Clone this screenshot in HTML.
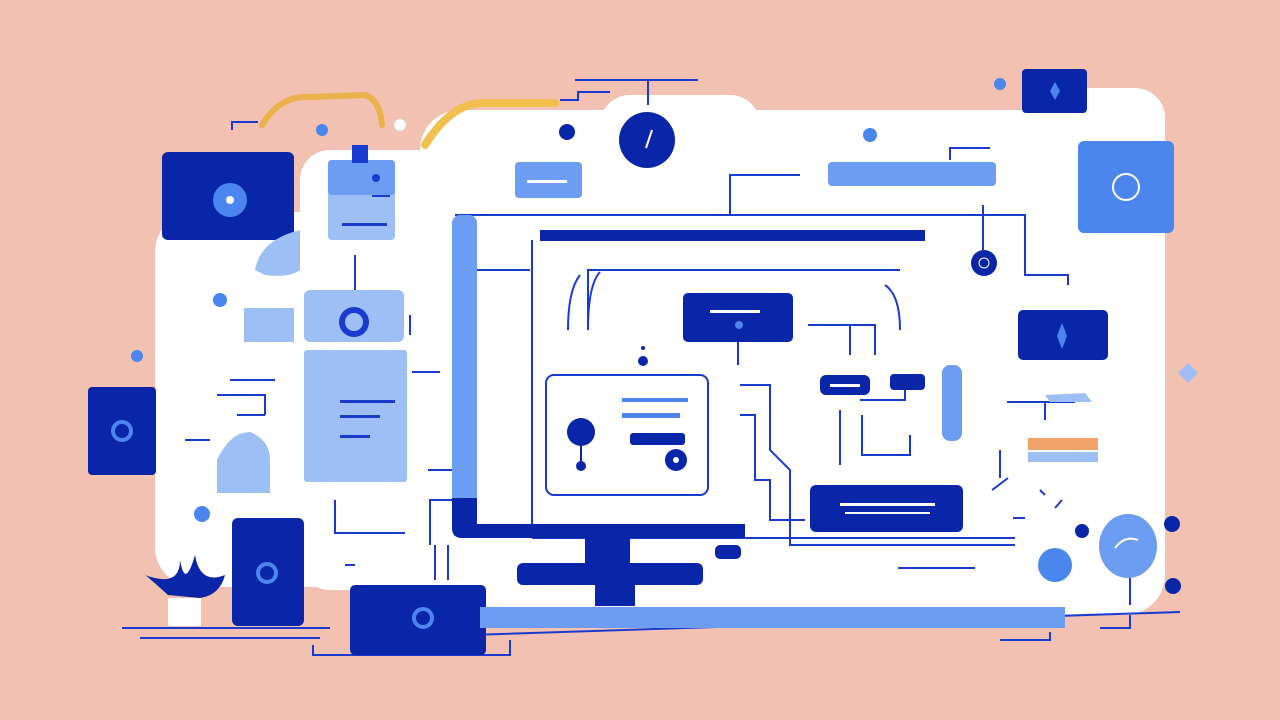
<!DOCTYPE html>
<html><head><meta charset="utf-8"><style>
html,body{margin:0;padding:0;width:1280px;height:720px;overflow:hidden;background:#f2c1b1}
svg{display:block}
</style></head><body>
<svg width="1280" height="720" viewBox="0 0 1280 720" xmlns="http://www.w3.org/2000/svg">
<rect width="1280" height="720" fill="#f2c1b1"/>
<g fill="#ffffff">
<rect x="155" y="212" width="200" height="375" rx="40"/>
<rect x="300" y="150" width="160" height="440" rx="30"/>
<rect x="420" y="110" width="745" height="505" rx="40"/>
<rect x="600" y="95" width="160" height="60" rx="30"/>
<rect x="1060" y="88" width="105" height="80" rx="30"/>
<rect x="420" y="140" width="100" height="100" rx="30"/>
</g>
<path d="M262 125 Q280 95 310 97 L365 95 Q380 100 382 125" fill="none" stroke="#e9b24a" stroke-width="6" stroke-linecap="round"/>
<path d="M425 145 Q450 105 480 103 L555 103" fill="none" stroke="#f2c04e" stroke-width="8" stroke-linecap="round"/>
<g fill="none" stroke="#1a3bd0" stroke-width="2">
<path d="M575 80 L698 80 M648 80 L648 105 M560 100 L578 100 L578 92 L610 92"/>
<path d="M232 130 L232 122 L258 122"/>
<path d="M730 215 L730 175 L800 175"/>
<path d="M950 160 L950 148 L990 148"/>
<path d="M455 215 L1025 215 L1025 275 L1068 275 L1068 285"/>
<path d="M983 205 L983 250"/>
<path d="M475 270 L530 270"/>
<path d="M532 240 L532 538 M532 538 L1015 538"/>
<path d="M580 275 Q568 290 568 330 M600 272 Q588 285 588 330 L588 270 Q600 270 900 270"/>
<path d="M885 285 Q900 295 900 330"/>
<path d="M738 342 L738 365"/>
<path d="M808 325 L875 325 L875 355"/>
<path d="M850 325 L850 355"/>
<path d="M740 385 L770 385 L770 450 L790 470 L790 545 L1015 545"/>
<path d="M740 415 L755 415 L755 480 L770 480 L770 520 L805 520"/>
<path d="M860 400 L905 400 L905 385"/>
<path d="M862 415 L862 455 L910 455 L910 435"/>
<path d="M840 410 L840 465"/>
<path d="M1007 402 L1075 402 M1045 402 L1045 420"/>
<path d="M1008 478 Q995 488 992 490 M1000 450 L1000 478"/>
<path d="M1040 490 L1045 495 M1055 508 L1062 500"/>
<path d="M1013 518 L1025 518"/>
<path d="M898 568 L975 568"/>
<path d="M475 500 L430 500 L430 545 M428 470 L455 470"/>
<path d="M410 315 L410 335 M412 372 L440 372"/>
<path d="M230 380 L275 380 M217 395 L265 395 L265 415 M237 415 L265 415 M185 440 L210 440"/>
<path d="M335 500 L335 533 L405 533 M345 565 L355 565"/>
<path d="M355 255 L355 290"/>
<path d="M122 628 L330 628 M140 638 L320 638"/>
<path d="M313 645 L313 655 L510 655 L510 640"/>
<path d="M470 635 L1180 612 M1000 640 L1050 640 L1050 632 M1100 628 L1130 628 L1130 615"/>
<path d="M1130 578 L1130 605"/>
<path d="M435 545 L435 580 M448 545 L448 580"/>
</g>
<rect x="162" y="152" width="132" height="88" rx="6" fill="#0a26a8"/>
<circle cx="230" cy="200" r="17" fill="#4a86ee"/><circle cx="230" cy="200" r="4" fill="#fff"/>
<path d="M255 270 Q260 240 300 230 L300 270 Q290 278 265 275 Z" fill="#9dbff5"/>
<rect x="328" y="160" width="67" height="80" rx="4" fill="#9dbff5"/>
<rect x="328" y="160" width="67" height="35" rx="4" fill="#6b9df2"/>
<rect x="352" y="145" width="16" height="18" fill="#1a3bd0"/>
<rect x="342" y="223" width="45" height="3" fill="#1a3bd0"/>
<rect x="372" y="195" width="18" height="2" fill="#1a3bd0"/>
<circle cx="376" cy="178" r="4" fill="#1a3bd0"/>
<rect x="244" y="308" width="50" height="34" fill="#9dbff5"/>
<rect x="304" y="290" width="100" height="52" rx="6" fill="#9dbff5"/>
<circle cx="354" cy="322" r="15" fill="#1a3bd0"/><circle cx="354" cy="322" r="9" fill="#9dbff5"/>
<rect x="304" y="350" width="103" height="132" rx="3" fill="#9dbff5"/>
<rect x="340" y="400" width="55" height="3" fill="#1a3bd0"/><rect x="340" y="415" width="40" height="3" fill="#1a3bd0"/><rect x="340" y="435" width="30" height="3" fill="#1a3bd0"/>
<path d="M217 493 L217 460 Q230 432 250 432 Q270 440 270 460 L270 493 Z" fill="#9dbff5"/>
<rect x="88" y="387" width="68" height="88" rx="4" fill="#0a26a8"/>
<circle cx="122" cy="431" r="9" fill="none" stroke="#4a86ee" stroke-width="4"/>
<rect x="232" y="518" width="72" height="108" rx="6" fill="#0a26a8"/>
<circle cx="267" cy="573" r="9" fill="none" stroke="#4a86ee" stroke-width="4"/>
<path d="M168 595 Q140 570 145 575 Q180 588 180 560 Q185 590 195 555 Q200 585 225 575 Q220 595 200 598 Z" fill="#0a26a8"/>
<rect x="168" y="598" width="33" height="28" fill="#fff"/>
<rect x="350" y="585" width="136" height="70" rx="5" fill="#0a26a8"/>
<circle cx="423" cy="618" r="9" fill="none" stroke="#4a86ee" stroke-width="4"/>
<g fill="#4a86ee">
<circle cx="322" cy="130" r="6"/><circle cx="220" cy="300" r="7"/><circle cx="137" cy="356" r="6"/><circle cx="202" cy="514" r="8"/>
<circle cx="1000" cy="84" r="6"/><circle cx="870" cy="135" r="7"/>
</g>
<circle cx="567" cy="132" r="8" fill="#0a26a8"/>
<circle cx="400" cy="125" r="6" fill="#fff" stroke="#ddd"/>
<rect x="515" y="162" width="67" height="36" rx="4" fill="#6b9df2"/>
<rect x="527" y="180" width="40" height="3" fill="#fff"/>
<circle cx="647" cy="140" r="33" fill="#fff"/>
<circle cx="647" cy="140" r="28" fill="#0a26a8"/>
<path d="M652 130 L646 148" stroke="#fff" stroke-width="2"/>
<rect x="828" y="162" width="168" height="24" rx="4" fill="#6b9df2"/>
<rect x="1022" y="69" width="65" height="44" rx="4" fill="#0a26a8"/>
<path d="M1055 82 L1060 91 L1055 100 L1050 91 Z" fill="#4a86ee"/>
<rect x="1078" y="141" width="96" height="92" rx="6" fill="#4a86ee"/>
<circle cx="1126" cy="187" r="13" fill="none" stroke="#fff" stroke-width="2"/>
<!-- monitor -->
<rect x="452" y="215" width="25" height="300" rx="8" fill="#6b9df2"/>
<path d="M452 498 L477 498 L477 524 L745 524 L745 538 L462 538 Q452 538 452 528 Z" fill="#0a26a8"/>
<rect x="540" y="230" width="385" height="11" fill="#0a26a8"/>
<rect x="585" y="538" width="45" height="30" fill="#0a26a8"/>
<rect x="595" y="584" width="40" height="22" fill="#0a26a8"/>
<rect x="517" y="563" width="186" height="22" rx="6" fill="#0a26a8"/>
<rect x="480" y="607" width="585" height="21" fill="#6b9df2"/>
<rect x="715" y="545" width="26" height="14" rx="5" fill="#0a26a8"/>
<rect x="683" y="293" width="110" height="49" rx="5" fill="#0a26a8"/>
<rect x="710" y="310" width="50" height="3" fill="#fff"/>
<circle cx="739" cy="325" r="4" fill="#4a86ee"/>
<circle cx="643" cy="361" r="5" fill="#0a26a8"/><circle cx="643" cy="348" r="2" fill="#0a26a8"/>
<rect x="546" y="375" width="162" height="120" rx="8" fill="#fff" stroke="#1a3bd0" stroke-width="2"/>
<rect x="622" y="398" width="66" height="4" fill="#4a86ee"/>
<rect x="622" y="413" width="58" height="5" fill="#4a86ee"/>
<rect x="630" y="433" width="55" height="12" rx="3" fill="#0a26a8"/>
<circle cx="676" cy="460" r="11" fill="#0a26a8"/><circle cx="676" cy="460" r="3" fill="#fff"/>
<circle cx="581" cy="432" r="14" fill="#0a26a8"/>
<path d="M581 446 L581 462" stroke="#0a26a8" stroke-width="2"/><circle cx="581" cy="466" r="5" fill="#0a26a8"/>
<rect x="820" y="375" width="50" height="20" rx="6" fill="#0a26a8"/>
<rect x="830" y="384" width="30" height="3" fill="#fff"/>
<rect x="890" y="374" width="35" height="16" rx="4" fill="#0a26a8"/>
<rect x="942" y="365" width="20" height="76" rx="8" fill="#6b9df2"/>
<rect x="810" y="485" width="153" height="47" rx="6" fill="#0a26a8"/>
<rect x="840" y="503" width="95" height="3" fill="#fff"/><rect x="845" y="512" width="85" height="2" fill="#fff"/>
<circle cx="984" cy="263" r="13" fill="#0a26a8"/><circle cx="984" cy="263" r="5" fill="none" stroke="#fff"/>
<rect x="1018" y="310" width="90" height="50" rx="5" fill="#0a26a8"/>
<path d="M1062 323 L1067 336 L1062 349 L1057 336 Z" fill="#4a86ee"/>
<path d="M1045 395 L1085 393 L1092 402 L1050 402 Z" fill="#9dbff5"/>
<rect x="1028" y="438" width="70" height="12" fill="#f2a36a"/>
<rect x="1028" y="452" width="70" height="10" fill="#9dbff5"/>
<rect x="1181" y="366" width="14" height="14" transform="rotate(45 1188 373)" fill="#9dbff5"/>
<circle cx="1082" cy="531" r="7" fill="#0a26a8"/>
<circle cx="1172" cy="524" r="8" fill="#0a26a8"/>
<circle cx="1173" cy="586" r="8" fill="#0a26a8"/>
<circle cx="1055" cy="565" r="17" fill="#4a86ee"/>
<ellipse cx="1128" cy="546" rx="29" ry="32" fill="#6b9df2"/>
<path d="M1115 548 Q1125 535 1138 540" fill="none" stroke="#fff" stroke-width="2"/>
</svg>
</body></html>
